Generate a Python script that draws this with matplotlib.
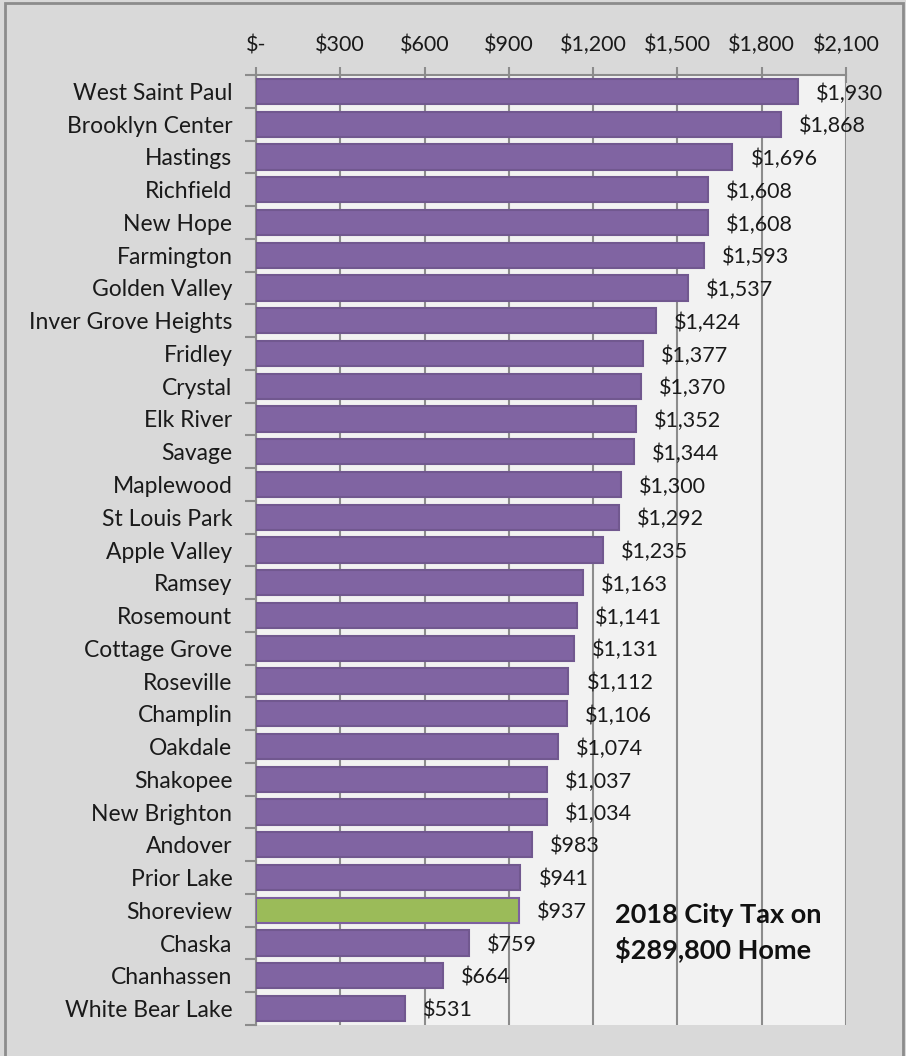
import matplotlib
matplotlib.use("Agg")
import matplotlib.pyplot as plt
from matplotlib.patches import Rectangle

cities = ["West Saint Paul", "Brooklyn Center", "Hastings", "Richfield", "New Hope",
          "Farmington", "Golden Valley", "Inver Grove Heights", "Fridley", "Crystal",
          "Elk River", "Savage", "Maplewood", "St Louis Park", "Apple Valley",
          "Ramsey", "Rosemount", "Cottage Grove", "Roseville", "Champlin",
          "Oakdale", "Shakopee", "New Brighton", "Andover", "Prior Lake",
          "Shoreview", "Chaska", "Chanhassen", "White Bear Lake"]
taxes = [1930, 1868, 1696, 1608, 1608, 1593, 1537, 1424, 1377, 1370,
         1352, 1344, 1300, 1292, 1235, 1163, 1141, 1131, 1112, 1106,
         1074, 1037, 1034, 983, 941, 937, 759, 664, 531]
highlight = "Shoreview"
xticks = [0, 300, 600, 900, 1200, 1500, 1800, 2100]
title_text = "2018 City Tax on\n$289,800 Home"

plt.rcParams['font.family'] = ['Lato', 'DejaVu Sans']

fig = plt.figure(figsize=(9.06, 10.56), dpi=100)
fig.patch.set_facecolor('#d9d9d9')
fig.patches.append(Rectangle((5/906, -0.01), (903-5)/906, 1 - 3/1056 + 0.01,
                             transform=fig.transFigure, fill=False,
                             edgecolor='#8c8c8c', linewidth=2))

ax = fig.add_axes([256/906, 1 - 1025/1056, (846-256)/906, (1025-75)/1056])
ax.set_facecolor('#f2f2f2')

n = len(cities)
ypos = list(range(n))
colors = ['#9bbb59' if c == highlight else '#8064a2' for c in cities]
edges = ['#71588f' if c != highlight else '#7d60a0' for c in cities]
ax.barh(ypos, taxes, height=0.77, color=colors, edgecolor=edges, linewidth=1.5, zorder=3)

ax.set_ylim(n - 0.5, -0.5)
ax.set_xlim(0, 2100)

for y, v in zip(ypos, taxes):
    ax.annotate(f"${v:,}", xy=(v, y), xytext=(13, -1.5), textcoords='offset points',
                ha='left', va='center', fontsize=15.5, color='#1a1a1a', zorder=4)

ax.xaxis.tick_top()
ax.set_xticks(xticks)
ax.set_xticklabels(["$-" if t == 0 else f"${t:,}" for t in xticks], fontsize=15.5, color='#1a1a1a')
ax.tick_params(axis='x', direction='inout', length=12, width=1.5, color='#8c8c8c', pad=8)
ax.grid(axis='x', color='#8c8c8c', linewidth=1.5, zorder=1)

ax.set_yticks([y + 0.5 for y in range(-1, n)], minor=False)
ax.set_yticklabels([])
ax.set_yticks(ypos, minor=True)
ax.set_yticklabels(cities, minor=True, fontsize=16.5, color='#1a1a1a')
ax.tick_params(axis='y', which='major', direction='out', length=8, width=1.5, color='#8c8c8c')
ax.tick_params(axis='y', which='minor', length=0, pad=17)

for s in ['right', 'bottom']:
    ax.spines[s].set_visible(False)
for s in ['left', 'top']:
    ax.spines[s].set_color('#8c8c8c')
    ax.spines[s].set_linewidth(1.5)

ax.text(615/906, 1 - 933/1056, title_text, transform=fig.transFigure,
        fontsize=19.5, fontweight='bold', color='#111111', ha='left', va='center',
        linespacing=1.45)

fig.savefig("out.png", dpi=100, facecolor=fig.get_facecolor())
